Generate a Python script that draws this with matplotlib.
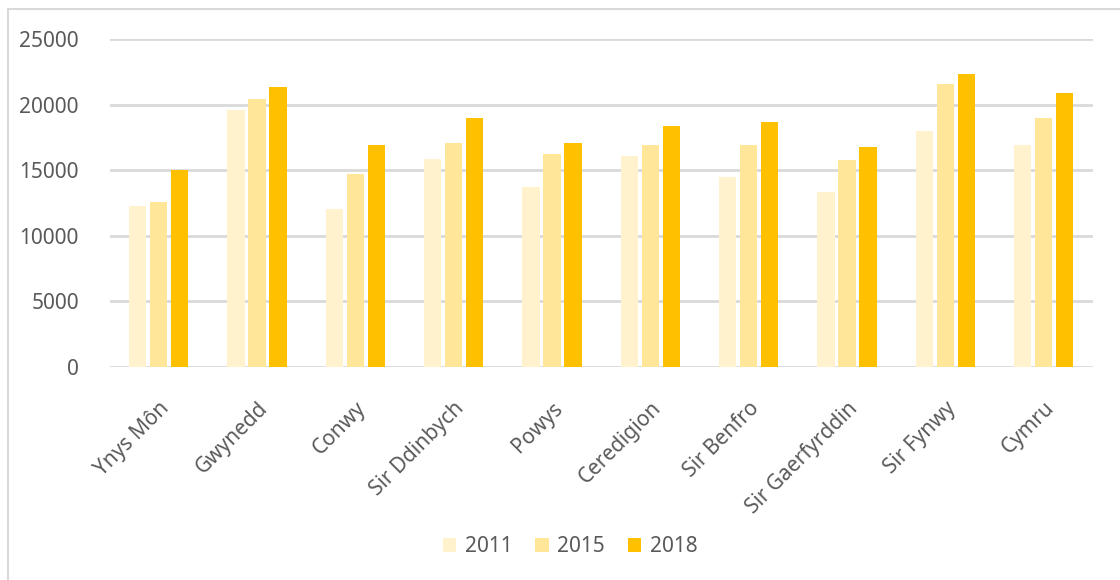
import matplotlib
matplotlib.use("Agg")
import matplotlib.pyplot as plt
from matplotlib.patches import Rectangle
import numpy as np

# data
categories = ['Ynys Môn', 'Gwynedd', 'Conwy', 'Sir Ddinbych', 'Powys',
              'Ceredigion', 'Sir Benfro', 'Sir Gaerfyrddin', 'Sir Fynwy', 'Cymru']
years = ['2011', '2015', '2018']
vals_2011 = [12300, 19600, 12050, 15850, 13700, 16050, 14500, 13300, 17950, 16950]
vals_2015 = [12550, 20400, 14700, 17050, 16250, 16950, 16950, 15750, 21550, 19000]
vals_2018 = [15050, 21300, 16950, 19000, 17050, 18400, 18700, 16750, 22350, 20850]
yticks = [0, 5000, 10000, 15000, 20000, 25000]

colors = ['#FFF2CC', '#FFE699', '#FFC000']
text_col = '#595959'
plt.rcParams['font.family'] = ['Noto Sans', 'DejaVu Sans']

fig = plt.figure(figsize=(11.2, 5.8), dpi=100)
ax = fig.add_axes([0.0978, 0.367, 0.878, 0.566])

# chart border like the spreadsheet frame
fig.patches.append(Rectangle((8 / 1120, -0.05), 1.2, 1 - 9 / 580 + 0.05,
                             transform=fig.transFigure, fill=False,
                             edgecolor='#D9D9D9', linewidth=1.5))

x = np.arange(len(categories))
width = 0.175
step = 0.214
series = [vals_2011, vals_2015, vals_2018]
for i, (vals, yr) in enumerate(zip(series, years)):
    ax.bar(x + (i - 1) * step, vals, width, color=colors[i], label=yr, zorder=3)

ax.set_xlim(-0.5, len(categories) - 0.5)
ax.set_ylim(0, 25000)
ax.set_yticks(yticks)
ax.set_yticklabels([str(t) for t in yticks], fontsize=15, color=text_col)
ax.yaxis.grid(True, color='#D9D9D9', linewidth=2)
ax.set_axisbelow(True)
for s in ax.spines.values():
    s.set_visible(False)
ax.tick_params(axis='both', length=0)
ax.tick_params(axis='y', pad=22)

ax.set_xticks(x)
ax.set_xticklabels(categories, rotation=45, ha='right', va='top',
                   rotation_mode='anchor', fontsize=15, color=text_col)
ax.tick_params(axis='x', pad=22)

leg = fig.legend(loc='center', bbox_to_anchor=(0.509, 1 - 547 / 580), ncol=3,
                 frameon=False, fontsize=15, handlelength=0.65, handleheight=0.65,
                 handletextpad=0.4, columnspacing=1.1)
for t in leg.get_texts():
    t.set_color(text_col)

fig.savefig('out.png', dpi=100)
